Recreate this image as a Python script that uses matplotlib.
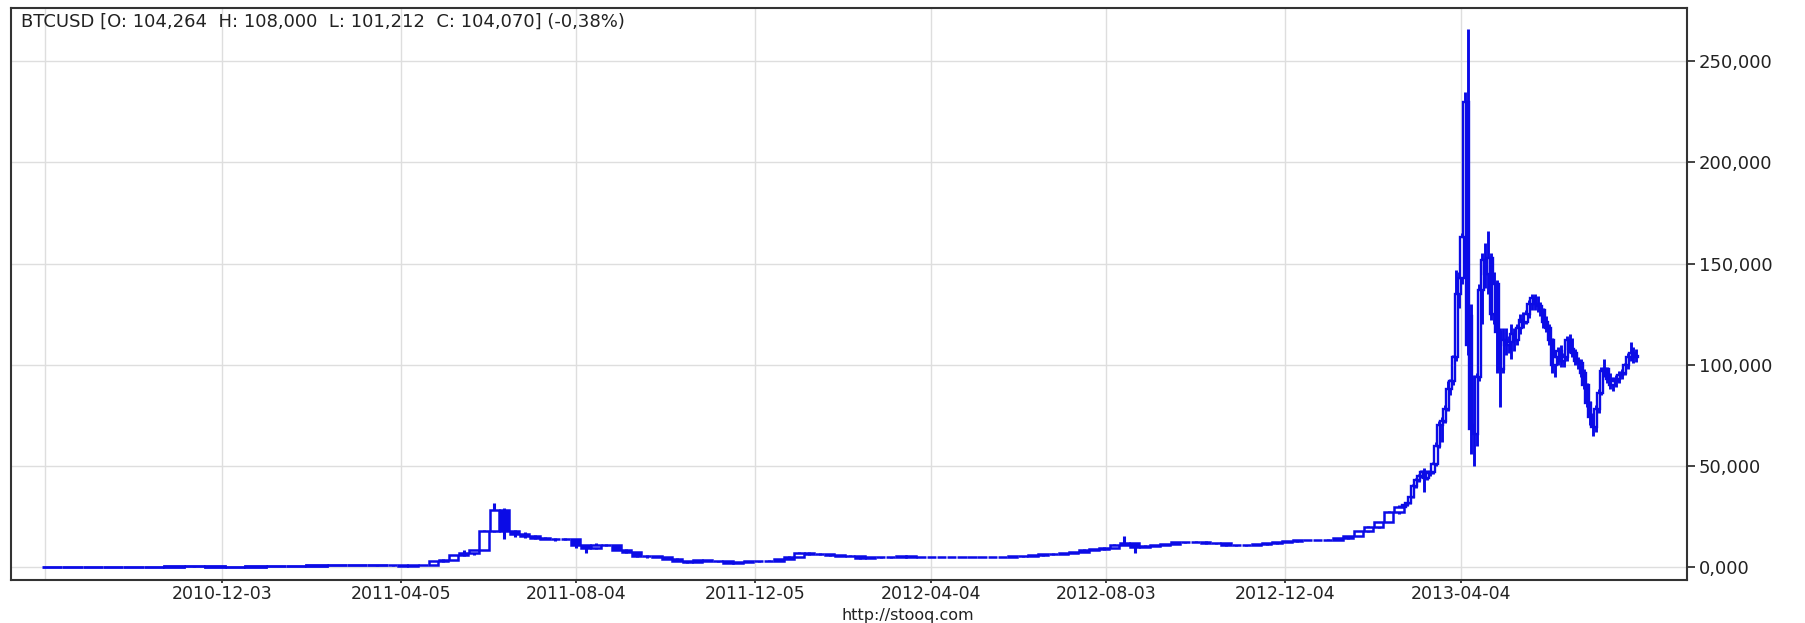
import numpy as np
import pandas as pd
import matplotlib
matplotlib.use("Agg")
import matplotlib.pyplot as plt
import matplotlib.dates as mdates
from matplotlib.ticker import FuncFormatter

# BTCUSD candles: (open, high, low, close)

# two-week candles from 2010-08-01
early_start = "2010-08-01"
early_ohlc = [
    (0.06, 0.07, 0.055, 0.065), (0.065, 0.07, 0.06, 0.064), (0.064, 0.067, 0.058, 0.062),
    (0.062, 0.065, 0.059, 0.062), (0.062, 0.11, 0.06, 0.10), (0.10, 0.20, 0.09, 0.19),
    (0.19, 0.50, 0.18, 0.28), (0.28, 0.36, 0.21, 0.28), (0.28, 0.30, 0.20, 0.21),
    (0.21, 0.26, 0.19, 0.24), (0.24, 0.30, 0.23, 0.30), (0.30, 0.40, 0.29, 0.39),
    (0.39, 0.45, 0.38, 0.44), (0.44, 1.10, 0.44, 1.00), (1.00, 1.05, 0.78, 0.89),
    (0.89, 0.95, 0.80, 0.88), (0.88, 0.92, 0.75, 0.78),
]

# weekly candles from 2011-03-27
weekly_start = "2011-03-27"
weekly_ohlc = [
    (0.78, 0.82, 0.75, 0.78), (0.78, 0.80, 0.67, 0.72), (0.72, 0.95, 0.70, 0.93),
    (0.93, 1.20, 0.90, 1.19), (1.19, 3.00, 1.15, 2.92), (2.92, 3.90, 2.70, 3.40),
    (3.40, 6.00, 3.30, 5.80), (5.80, 8.40, 5.50, 7.10), (7.10, 8.50, 6.10, 8.30),
    (8.30, 18.5, 8.20, 18.0), (18.0, 31.9, 17.5, 28.0), (28.0, 29.0, 14.0, 17.8),
    (17.8, 18.5, 15.0, 16.5), (16.5, 17.5, 14.5, 15.4), (15.4, 16.0, 13.9, 14.6),
    (14.6, 15.0, 13.8, 14.0), (14.0, 14.3, 13.0, 13.7), (13.7, 14.4, 13.4, 13.9),
    (13.9, 14.0, 9.5, 10.8), (10.8, 11.0, 7.1, 9.2), (9.2, 11.9, 9.0, 11.1),
    (11.1, 11.6, 10.4, 10.9), (10.9, 11.0, 8.3, 8.6), (8.6, 8.8, 6.8, 7.2),
    (7.2, 7.5, 4.9, 5.5), (5.5, 6.0, 4.7, 5.3), (5.3, 5.5, 4.8, 5.0),
    (5.0, 5.1, 3.9, 4.1), (4.1, 4.3, 2.9, 3.1), (3.1, 3.2, 2.0, 2.6),
    (2.6, 3.6, 2.5, 3.3), (3.3, 3.6, 2.9, 3.0), (3.0, 3.1, 2.7, 2.9),
    (2.9, 3.0, 2.1, 2.2), (2.2, 2.6, 2.0, 2.4), (2.4, 2.9, 2.4, 2.8),
    (2.8, 3.2, 2.7, 3.1), (3.1, 3.3, 2.9, 3.2), (3.2, 4.2, 3.1, 4.0),
    (4.0, 5.3, 3.9, 5.2),
    # 2012
    (5.2, 7.2, 5.0, 6.8), (6.8, 7.3, 6.0, 6.6), (6.6, 6.8, 6.0, 6.3),
    (6.3, 6.5, 5.6, 5.8), (5.8, 6.2, 5.5, 5.7), (5.7, 5.9, 5.3, 5.5),
    (5.5, 5.6, 4.2, 4.4), (4.4, 5.2, 4.3, 4.9), (4.9, 5.0, 4.6, 4.8),
    (4.8, 5.0, 4.7, 4.9), (4.9, 5.5, 4.8, 5.3), (5.3, 5.3, 4.8, 4.9),
    (4.9, 5.0, 4.8, 4.9), (4.9, 5.0, 4.8, 4.9), (4.9, 5.0, 4.8, 4.95),
    (4.95, 5.2, 4.9, 5.1), (5.1, 5.2, 5.0, 5.1), (5.1, 5.2, 5.0, 5.1),
    (5.1, 5.1, 5.0, 5.05), (5.05, 5.1, 4.9, 5.0), (5.0, 5.2, 5.0, 5.15),
    (5.15, 5.3, 5.1, 5.25), (5.25, 5.6, 5.2, 5.5), (5.5, 5.9, 5.4, 5.8),
    (5.8, 6.5, 5.7, 6.4), (6.4, 6.7, 6.2, 6.6), (6.6, 6.9, 6.4, 6.8),
    (6.8, 7.5, 6.7, 7.4), (7.4, 9.0, 7.3, 8.5), (8.5, 8.9, 8.2, 8.8),
    (8.8, 9.8, 8.6, 9.6), (9.6, 11.4, 9.5, 11.0), (11.0, 15.4, 10.8, 12.0),
    (12.0, 12.0, 7.1, 10.0), (10.0, 11.0, 9.8, 10.6), (10.6, 11.1, 10.2, 10.9),
    (10.9, 11.6, 10.7, 11.5), (11.5, 12.4, 11.4, 12.3), (12.3, 12.6, 12.0, 12.4),
    (12.4, 12.8, 12.2, 12.6), (12.6, 12.7, 11.6, 11.8), (11.8, 11.9, 11.5, 11.7),
    (11.7, 11.8, 10.5, 10.8), (10.8, 10.9, 10.4, 10.7), (10.7, 11.0, 10.6, 10.9),
    (10.9, 11.3, 10.8, 11.2), (11.2, 11.8, 11.1, 11.7), (11.7, 12.5, 11.6, 12.4),
    (12.4, 12.8, 12.2, 12.7), (12.7, 13.6, 12.6, 13.5), (13.5, 13.6, 13.2, 13.4),
    (13.4, 13.6, 13.2, 13.5), (13.5, 13.8, 13.2, 13.6),
    # 2013
    (13.6, 14.3, 13.5, 14.2), (14.2, 15.5, 14.1, 15.3), (15.3, 17.8, 15.2, 17.6),
    (17.6, 20.4, 17.3, 20.0), (20.0, 22.5, 19.5, 22.4), (22.4, 27.5, 22.3, 27.0),
    (27.0, 30.5, 26.0, 29.8),
]

# two-day candles from 2013-02-23
late_start = "2013-02-23"
late_ohlc = [
    (29.8, 31, 29.5, 30.5), (30.5, 32, 30, 31.5), (31.5, 35, 31, 34.5),
    (34.5, 41, 34, 40), (40, 44, 39, 43), (43, 46, 42, 45), (45, 48, 44, 47),
    (47, 49, 37, 44), (44, 48, 43, 46.5), (46.5, 48, 45, 47), (47, 52, 46, 51),
    (51, 62, 50, 60), (60, 72, 59, 70), (70, 74, 62, 72), (72, 80, 71, 78),
    (78, 92, 77, 88), (88, 93, 85, 92), (92, 105, 90, 104), (104, 147, 102, 135),
    (135, 146, 128, 143), (143, 165, 140, 163), (163, 235, 160, 230),
    (230, 266, 105, 110), (124, 130, 56, 68), (70, 95, 50, 66), (66, 96, 60, 94),
    (94, 140, 92, 137), (137, 155, 120, 152), (152, 160, 138, 145),
    (145, 166, 135, 153), (153, 155, 122, 125), (125, 146, 120, 140),
    (140, 142, 96, 116), (116, 118, 79, 98), (98, 118, 96, 112),
    (112, 118, 105, 110), (110, 114, 106, 111), (111, 120, 103, 115),
    (115, 118, 107, 112), (112, 120, 110, 118), (118, 125, 115, 122),
    (122, 126, 118, 121), (121, 127, 120, 125), (125, 132, 123, 130),
    (130, 135, 127, 133), (133, 135, 127, 130), (130, 134, 126, 129),
    (129, 131, 124, 127), (127, 128, 118, 121), (121, 124, 116, 118),
    (118, 120, 110, 112), (112, 113, 96, 100), (100, 106, 94, 104),
    (104, 109, 100, 107), (107, 110, 99, 102), (102, 106, 99, 104),
    (104, 114, 102, 112), (112, 115, 106, 108), (108, 113, 104, 106),
    (106, 108, 100, 102), (102, 104, 98, 101), (101, 103, 94, 96),
    (96, 98, 88, 90), (90, 91, 79, 81), (81, 82, 70, 74), (74, 76, 65, 69),
    (69, 80, 67, 78), (78, 88, 76, 86), (86, 99, 85, 97), (97, 103, 94, 98),
    (98, 99, 91, 93), (93, 96, 88, 90), (90, 94, 87, 92), (92, 95, 89, 93),
    (93, 97, 91, 95), (95, 98, 93, 96), (96, 101, 95, 100), (100, 106, 98, 104),
    (104, 111, 102, 106), (106, 109, 101, 104), (104.264, 108.0, 101.212, 104.07),
]

tick_dates = ["2010-12-03", "2011-04-05", "2011-08-04", "2011-12-05",
              "2012-04-04", "2012-08-03", "2012-12-04", "2013-04-04"]
extra_grid_date = "2010-08-03"
y_ticks = [0, 50, 100, 150, 200, 250]
title = "BTCUSD [O: 104,264  H: 108,000  L: 101,212  C: 104,070] (-0,38%)"
source = "http://stooq.com"

BLUE = "#0b0be6"
plt.rcParams["font.family"] = ["DejaVu Sans"]

fig = plt.figure(figsize=(18.06, 6.23), dpi=100)
ax = fig.add_axes([0.00609, 0.06902, 0.92802, 0.91734])


def draw_candles(start, step, ohlc, width, lw):
    dates = pd.date_range(start, periods=len(ohlc), freq=f"{step}D") + pd.Timedelta(days=step / 2)
    x = mdates.date2num(dates)
    o, h, l, c = (np.array(v, dtype=float) for v in zip(*ohlc))
    ax.vlines(x, l, h, color=BLUE, lw=lw + 0.4, zorder=3)
    fills = np.where(c >= o, "white", BLUE)
    ax.bar(x, c - o, width, bottom=o, color=fills, edgecolor=BLUE, lw=lw, zorder=4)


draw_candles(early_start, 14, early_ohlc, 14, 2.0)
draw_candles(weekly_start, 7, weekly_ohlc, 6.5, 1.8)
draw_candles(late_start, 2, late_ohlc, 2.2, 1.7)

# axes limits
d0 = mdates.date2num(pd.Timestamp("2010-12-03"))
ax.set_xlim(d0 - 145.3, d0 + 1008.9)
ax.set_ylim(-6.4, 276.1)

# grid
ax.set_axisbelow(True)
ax.grid(True, color="#dedede", lw=1.0)
ax.axvline(mdates.date2num(pd.Timestamp(extra_grid_date)), color="#dedede", lw=1.0, zorder=0)

# ticks
ax.set_xticks(mdates.date2num(pd.to_datetime(tick_dates)))
ax.set_xticklabels(tick_dates)
ax.set_yticks(y_ticks)
ax.yaxis.set_major_formatter(FuncFormatter(lambda v, p: f"{v:.3f}".replace(".", ",")))
ax.yaxis.tick_right()
ax.tick_params(axis="y", length=5.5, width=1.2, pad=3, labelsize=13, colors="#222222")
ax.tick_params(axis="x", length=2.5, width=1.2, pad=1, labelsize=12.5, colors="#222222")

for s in ax.spines.values():
    s.set_linewidth(1.5)
    s.set_color("#333333")

fig.text(21 / 1806, 1 - 26.5 / 623, title, fontsize=13, color="#222222", va="baseline", ha="left")
fig.text(0.5025, 0.0, source, fontsize=11.5, color="#222222", va="bottom", ha="center")

fig.savefig("out.png", dpi=100)
